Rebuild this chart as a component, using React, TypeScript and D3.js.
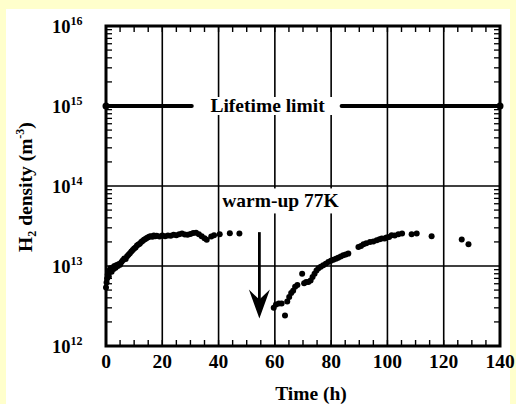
import React from 'react';
import * as d3 from 'd3';

// ---- data ----
const xTickValues = [0, 20, 40, 60, 80, 100, 120, 140];
const yDecades = [12, 13, 14, 15, 16];
const gridTimes = [20, 40, 60, 80, 100, 120];
const gridDensities = [1e13, 1e14];

// first cool-down run (density in units of 1e12 m^-3)
const run1Time = [
  0, 0.2, 0.4, 0.6, 0.8, 1.0, 1.3, 1.6, 2.0, 2.3, 2.7, 3.0, 3.4, 3.8, 4.2, 4.6, 5.0, 5.5, 6.0, 6.5,
  7.0, 7.5, 8.0, 8.5, 9.0, 9.5, 10.0, 10.5, 11.0, 11.5, 12.0, 12.5, 13.0, 13.5, 14.0, 14.5, 15.0,
  15.5, 16.0, 16.5, 17.0, 17.5, 18.0, 19.0, 20.0, 21.0, 22.0, 23.0, 24.0, 25.0, 26.0, 27.0, 28.0,
  29.0, 30.0, 31.0, 32.0, 33.0, 34.0, 35.0, 35.8, 37.4, 38.4, 40.4, 44.0, 47.4,
];
const run1Density = [
  5.4, 6.2, 7.0, 7.8, 8.6, 7.4, 8.8, 9.4, 8.5, 9.6, 9.2, 10.0, 9.5, 10.3, 10.0, 10.6, 10.4, 11.2,
  11.8, 12.4, 12.2, 13.2, 13.8, 14.4, 15.2, 15.8, 16.5, 17.0, 18.0, 18.6, 19.0, 20.0, 20.5, 21.3,
  21.8, 22.4, 22.9, 23.3, 23.6, 23.2, 24.0, 23.5, 23.8, 23.4, 24.0, 23.6, 24.1, 23.8, 24.5, 24.2,
  25.0, 25.4, 24.8, 24.5, 25.2, 25.8, 26.0, 25.0, 23.6, 22.3, 21.3, 23.4, 24.2, 25.0, 25.6, 25.4,
];

// second run after warm-up to 77 K
const run2Time = [
  59.6, 60.4, 61.4, 62.4, 63.6, 64.4, 65.1, 65.8, 66.5, 67.2, 68.0, 69.7, 70.4, 71.1, 71.9, 72.7,
  73.4, 74.1, 74.8, 75.5, 76.3, 77.2, 78.1, 79.0, 79.9, 80.8, 81.7, 82.5, 83.4, 84.3, 85.2, 86.1,
  89.7, 90.6, 91.5, 92.5, 93.8, 95.0, 96.2, 97.2, 98.0, 99.0, 99.7, 100.6, 101.5, 102.6, 103.9,
  105.2, 108.6, 110.4, 115.7, 126.4, 128.8,
];
const run2Density = [
  3.0, 3.3, 3.4, 3.4, 2.4, 3.6, 4.1, 4.6, 4.9, 5.5, 5.8, 8.0, 6.1, 6.3, 6.3, 6.6,
  7.3, 8.0, 8.8, 9.4, 9.8, 10.2, 10.7, 11.2, 11.6, 12.0, 12.3, 12.7, 13.1, 13.6, 13.9, 14.3,
  17.3, 17.8, 18.7, 19.2, 20.0, 20.3, 21.0, 21.6, 22.0, 22.0, 22.7, 23.0, 24.2, 24.0, 25.0,
  25.4, 25.0, 25.4, 23.5, 21.5, 18.7,
];

const limitValue = 1e15;
const limitSegments = [[0, 30.5], [83.7, 140]];
const limitLabel = 'Lifetime limit';
const limitLabelTime = 57.4;

const warmLabel = 'warm-up 77K';
const warmLabelTime = 62;
const warmLabelDensity = 6.6e13;
const arrowTime = 54.5;
const arrowFrom = 2.65e13;
const arrowTo = 2.2e12;

const FONT = "'Liberation Serif', 'Times New Roman', serif";

export default function App() {
  const W = 516;
  const H = 404;
  const left = 106, right = 500, top = 26, bottom = 346;
  const x = d3.scaleLinear().domain([0, 140]).range([left, right]);
  const y = d3.scaleLog().domain([1e12, 1e16]).range([bottom, top]);

  const minorX = d3.range(5, 140, 5);
  const minorY: number[] = [];
  for (const d of [12, 13, 14, 15]) for (let k = 2; k <= 9; k++) minorY.push(k * Math.pow(10, d));

  const pts1 = run1Time.map((t, i) => [x(t), y(run1Density[i] * 1e12)]);
  const pts2 = run2Time.map((t, i) => [x(t), y(run2Density[i] * 1e12)]);

  const ly = y(limitValue);
  const ax = x(arrowTime);
  const ay0 = y(arrowFrom);
  const ay1 = y(arrowTo);
  const wy = y(warmLabelDensity);
  const wx = x(warmLabelTime);

  return (
    <svg width={W} height={H} style={{ position: 'absolute', left: 0, top: 0, display: 'block' }}
      fontFamily={FONT}>
      <rect x={0} y={0} width={W} height={H} fill="#ffffcc" />
      <rect x={6} y={9} width={504} height={H - 9} fill="#ffffff" />

      {/* grid */}
      {gridTimes.map(t => (
        <line key={'gx' + t} x1={x(t)} x2={x(t)} y1={top} y2={bottom} stroke="#000" strokeWidth={1.6} />
      ))}
      {gridDensities.map(v => (
        <line key={'gy' + v} x1={left} x2={right} y1={y(v)} y2={y(v)} stroke="#000" strokeWidth={1.6} />
      ))}

      {/* minor ticks */}
      {minorX.map(t => (
        <g key={'mx' + t}>
          <line x1={x(t)} x2={x(t)} y1={bottom} y2={bottom - 6} stroke="#000" strokeWidth={1.4} />
          <line x1={x(t)} x2={x(t)} y1={top} y2={top + 6} stroke="#000" strokeWidth={1.4} />
        </g>
      ))}
      {minorY.map(v => (
        <g key={'my' + v}>
          <line x1={left} x2={left + 6} y1={y(v)} y2={y(v)} stroke="#000" strokeWidth={1.3} />
          <line x1={right} x2={right - 6} y1={y(v)} y2={y(v)} stroke="#000" strokeWidth={1.3} />
        </g>
      ))}

      {/* label backgrounds (break the grid) */}
      <rect x={x(limitSegments[0][1])} y={ly - 9} width={x(limitSegments[1][0]) - x(limitSegments[0][1])} height={18} fill="#fff" />
      <rect x={wx - 58} y={wy - 12} width={116} height={25} fill="#fff" />

      {/* frame */}
      <rect x={left} y={top} width={right - left} height={bottom - top} fill="none" stroke="#000" strokeWidth={3} />

      {/* lifetime limit */}
      {limitSegments.map((s, i) => (
        <line key={'ls' + i} x1={x(s[0])} x2={x(s[1])} y1={ly} y2={ly} stroke="#000" strokeWidth={3.8} strokeLinecap="round" />
      ))}
      <circle cx={x(0)} cy={ly} r={3.5} fill="#000" />
      <circle cx={x(140)} cy={ly} r={3.5} fill="#000" />
      <text x={x(limitLabelTime)} y={ly + 5.5} textAnchor="middle" fontSize={19.5} fontWeight="bold">{limitLabel}</text>

      {/* warm-up annotation */}
      <text x={wx} y={wy + 7} textAnchor="middle" fontSize={19.5} fontWeight="bold">{warmLabel}</text>
      <line x1={ax} x2={ax} y1={ay0} y2={ay1 - 18} stroke="#000" strokeWidth={2.8} />
      <path d={`M${ax},${ay1} L${ax - 10.5},${ay1 - 29} L${ax},${ay1 - 19} L${ax + 10.5},${ay1 - 29} Z`} fill="#000" />

      {/* data */}
      {pts1.map((p, i) => <circle key={'a' + i} cx={p[0]} cy={p[1]} r={3} fill="#000" />)}
      {pts2.map((p, i) => <circle key={'b' + i} cx={p[0]} cy={p[1]} r={3} fill="#000" />)}

      {/* x tick labels */}
      {xTickValues.map(t => (
        <text key={'xt' + t} x={x(t)} y={368} textAnchor="middle" fontSize={19.5} fontWeight="bold">{t}</text>
      ))}
      <text x={311} y={400} textAnchor="middle" fontSize={19.5} fontWeight="bold">Time (h)</text>

      {/* y tick labels */}
      {yDecades.map(d => (
        <text key={'yt' + d} x={52} y={y(Math.pow(10, d)) + 7} fontSize={18.5} fontWeight="bold">
          10<tspan dy={-8} fontSize={12}>{d}</tspan>
        </text>
      ))}

      {/* y axis title */}
      <text transform={`translate(32,187) rotate(-90)`} textAnchor="middle" fontSize={19.5} fontWeight="bold">
        H<tspan fontSize={12} dy={4}>2</tspan><tspan dy={-4}> density (m</tspan><tspan fontSize={12} dy={-8}>-3</tspan><tspan dy={8}>)</tspan>
      </text>
    </svg>
  );
}
